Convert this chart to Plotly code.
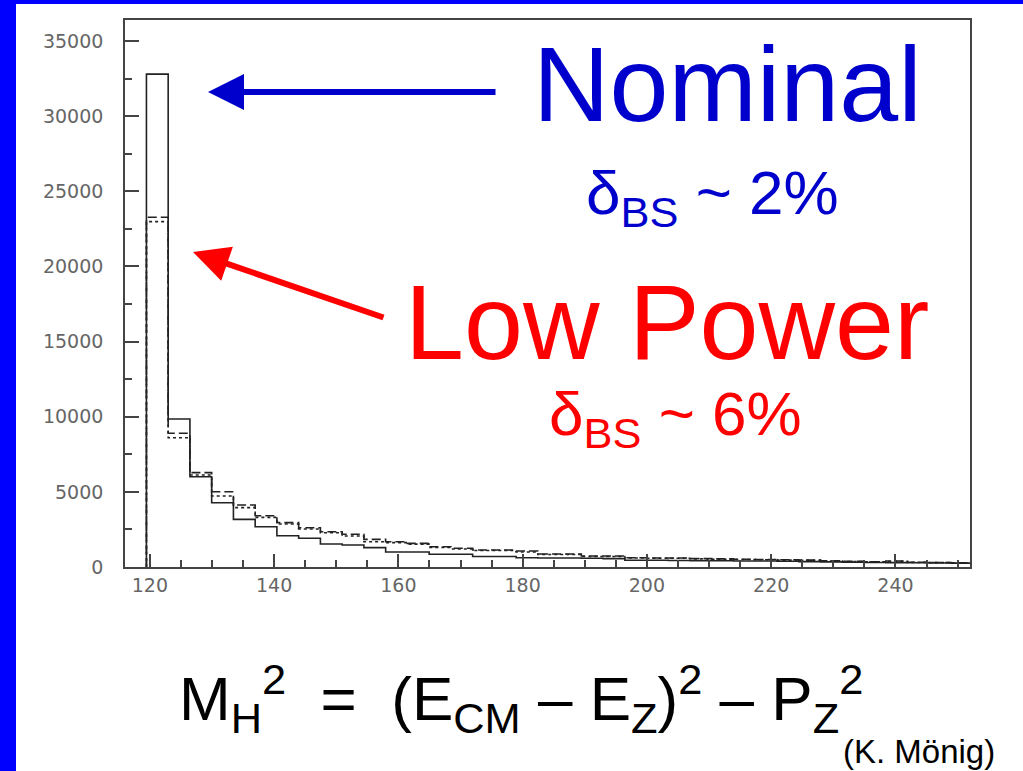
import plotly.graph_objects as go

# ---- data ----
bin_start = 119.45
bin_width = 3.5
nominal = [32800, 9850, 6010, 4280, 3170, 2680, 2080, 1910, 1530, 1460,
           1290, 1000, 1000, 850, 850, 700, 700, 620, 600, 600,
           580, 560, 450, 450, 430, 420, 420, 400, 400, 380,
           360, 340, 320, 300, 290, 280, 270, 260]
lowpower_a = [23270, 8900, 6280, 5010, 4125, 3410, 2950, 2615, 2350, 2175,
              1840, 1685, 1575, 1350, 1245, 1130, 1130, 1060, 865, 865,
              730, 730, 620, 600, 600, 560, 540, 520, 500, 480,
              460, 420, 380, 350, 400, 320, 300, 280]
lowpower_b = [22980, 8600, 6120, 4720, 3950, 3300, 2860, 2530, 2280, 2060,
              1685, 1620, 1520, 1300, 1200, 1100, 1100, 1000, 830, 830,
              700, 700, 600, 580, 580, 540, 520, 500, 480, 460,
              440, 400, 370, 340, 380, 310, 290, 270]
x_tickvals = [120, 140, 160, 180, 200, 220, 240]
y_tickvals = [0, 5000, 10000, 15000, 20000, 25000, 30000, 35000]
y_ticktext = ["0", "5000", "10000", "15000", "20000", "25000", "30000", "35000"]

W, H = 1023, 771
L, R, T, B = 125, 53, 20, 204
PW, PH = W - L - R, H - T - B


def px(x):
    return (x - L) / PW


def py(y):
    return (H - B - y) / PH


def step(vals):
    edges = [bin_start + i * bin_width for i in range(len(vals) + 1)]
    xs = [edges[0]] + edges
    ys = [0] + list(vals) + [vals[-1]]
    return xs, ys


fig = go.Figure()
for vals, dash, w in [(lowpower_b, "3px,3px", 1.6), (lowpower_a, "9px,4px", 1.6), (nominal, "solid", 1.6)]:
    xs, ys = step(vals)
    fig.add_trace(go.Scatter(x=xs, y=ys, mode="lines", line_shape="hv",
                             line=dict(color="#222222", width=w, dash=dash),
                             showlegend=False, hoverinfo="skip"))

tickfont = dict(family="DejaVu Sans", size=19, color="#666666")
fig.update_xaxes(range=[116, 252], showline=True, mirror=True, linecolor="#444444", linewidth=1.6,
                 ticks="inside", ticklen=13, tickwidth=1.5, tickcolor="#444444",
                 tickvals=x_tickvals, ticklabelstandoff=0,
                 minor=dict(ticks="inside", ticklen=7, tickwidth=1.5, tickcolor="#444444", dtick=5, tick0=120),
                 showgrid=False, zeroline=False, tickfont=tickfont)
fig.update_yaxes(range=[0, 36400], showline=True, mirror=True, linecolor="#444444", linewidth=1.6,
                 ticks="inside", ticklen=14, tickwidth=1.5, tickcolor="#444444",
                 tickvals=y_tickvals, ticktext=y_ticktext, ticklabelstandoff=16,
                 minor=dict(ticks="inside", ticklen=7, tickwidth=1.5, tickcolor="#444444", dtick=2500, tick0=0),
                 showgrid=False, zeroline=False, tickfont=tickfont)

BLUE = "#0000cc"
RED = "#ff0000"
shapes = [
    dict(type="rect", xref="paper", yref="paper", x0=px(0), x1=px(16), y0=py(H), y1=py(0),
         fillcolor="#0000ff", line=dict(width=0), layer="above"),
    dict(type="rect", xref="paper", yref="paper", x0=px(0), x1=px(W), y0=py(4), y1=py(0),
         fillcolor="#0000ff", line=dict(width=0), layer="above"),
]

ann = []
font = "Liberation Sans, Arial"
ann.append(dict(text="Nominal", x=px(727), y=py(84), font=dict(family=font, size=106, color=BLUE)))
ann.append(dict(text="δ<sub>BS</sub> ~ 2%", x=px(712), y=py(197), font=dict(family=font, size=62, color=BLUE)))
ann.append(dict(text="Low Power", x=px(667), y=py(322), font=dict(family=font, size=106, color=RED)))
ann.append(dict(text="δ<sub>BS</sub> ~ 6%", x=px(675), y=py(418), font=dict(family=font, size=62, color=RED)))
ann.append(dict(text="M<sub>H</sub><sup>2</sup>  =  (E<sub>CM</sub> – E<sub>Z</sub>)<sup>2</sup> – P<sub>Z</sub><sup>2</sup>",
                x=px(521), y=py(698), font=dict(family=font, size=62, color="black")))
ann.append(dict(text="(K. Mönig)", x=px(919), y=py(751), font=dict(family=font, size=33, color="black")))
for a in ann:
    a.update(xref="paper", yref="paper", showarrow=False, xanchor="center", yanchor="middle")

# arrows (head position in paper coords, tail as pixel offset)
ann.append(dict(x=px(208), y=py(92), ax=497 - 208, ay=0, xref="paper", yref="paper",
                text="", showarrow=True, arrowhead=2,
                arrowwidth=6, arrowsize=1.2, arrowcolor=BLUE))
ann.append(dict(x=px(193), y=py(252), ax=385 - 193, ay=318 - 252, xref="paper", yref="paper",
                text="", showarrow=True, arrowhead=2,
                arrowwidth=6, arrowsize=1.2, arrowcolor=RED))

fig.update_layout(width=W, height=H, margin=dict(l=L, r=R, t=T, b=B),
                  paper_bgcolor="white", plot_bgcolor="white",
                  shapes=shapes, annotations=ann, showlegend=False)

fig.write_html("out.html", config={"displayModeBar": False},
               post_script="document.body.style.margin='0';document.body.style.padding='0';")
